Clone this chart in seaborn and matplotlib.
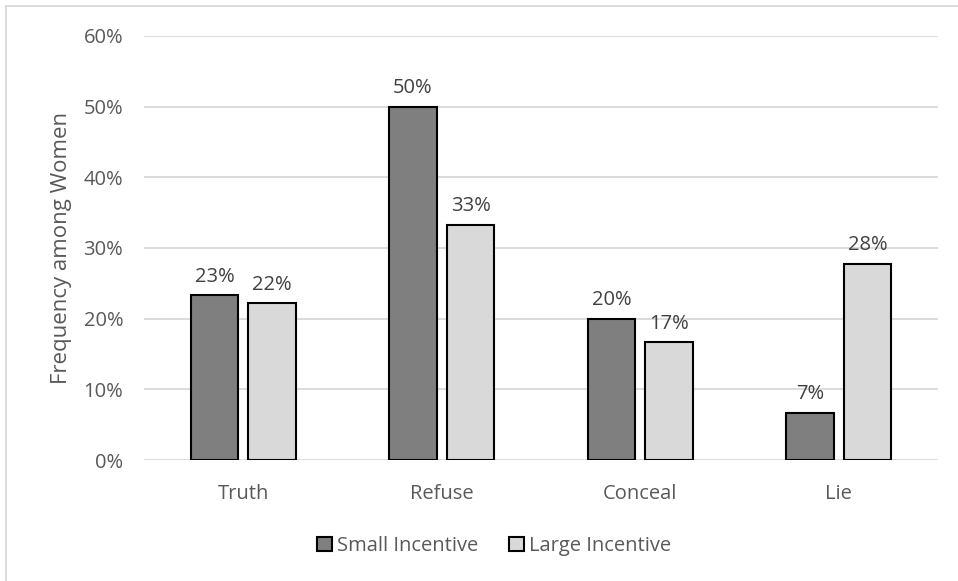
import matplotlib
matplotlib.use("Agg")
import matplotlib.pyplot as plt
import seaborn as sns
import pandas as pd
from matplotlib.patches import Rectangle

categories = ["Truth", "Refuse", "Conceal", "Lie"]
small_incentive = [0.233, 0.500, 0.200, 0.067]
large_incentive = [0.222, 0.333, 0.167, 0.278]
series_names = ["Small Incentive", "Large Incentive"]
yticks = [0, 0.1, 0.2, 0.3, 0.4, 0.5, 0.6]

df = pd.DataFrame({
    "category": categories * 2,
    "value": small_incentive + large_incentive,
    "series": [series_names[0]] * 4 + [series_names[1]] * 4,
})

sns.set_theme(style="white")
plt.rcParams["font.family"] = ["Open Sans", "DejaVu Sans"]
text_color = "#595959"

W, H = 958, 581
fig = plt.figure(figsize=(W / 100, H / 100), dpi=100)
ax = fig.add_axes([144 / W, 1 - 460 / H, (938 - 144) / W, (460 - 36) / H])

sns.barplot(data=df, x="category", y="value", hue="series", order=categories,
            hue_order=series_names, palette=["#7f7f7f", "#d9d9d9"],
            width=0.58, gap=0.17, edgecolor="black", linewidth=1.5,
            ax=ax, legend=False, errorbar=None)

for cont in ax.containers:
    ax.bar_label(cont, labels=[f"{v*100:.0f}%" for v in cont.datavalues],
                 padding=6, fontsize=14.5, color="#404040")

ax.set_ylim(0, 0.6)
ax.set_yticks(yticks)
ax.set_yticklabels([f"{int(round(t*100))}%" for t in yticks], color=text_color, fontsize=14.5)
ax.tick_params(axis="x", colors=text_color, labelsize=14.5, length=0, pad=17)
ax.tick_params(axis="y", length=0, pad=15)
ax.yaxis.grid(True, color="#d9d9d9", linewidth=1.3)
ax.set_axisbelow(True)
for s in ax.spines.values():
    s.set_visible(False)
ax.set_xlabel("")
ax.set_ylabel("Frequency among Women", color=text_color, fontsize=16, labelpad=8)
ax.set_xlim(-0.5, 3.5)

handles = [Rectangle((0, 0), 1, 1, facecolor="#7f7f7f", edgecolor="black", linewidth=1.5),
           Rectangle((0, 0), 1, 1, facecolor="#d9d9d9", edgecolor="black", linewidth=1.5)]
leg = fig.legend(handles, series_names, loc="center", bbox_to_anchor=(494 / W, 1 - 546 / H),
                 ncol=2, frameon=False, fontsize=14.5, handlelength=0.75, handleheight=0.75,
                 handletextpad=0.25, columnspacing=1.55, borderpad=0)
for t in leg.get_texts():
    t.set_color(text_color)

fig.patches.append(Rectangle((6 / W, -0.05), 1.1, 1 - 6 / H + 0.05, transform=fig.transFigure,
                             fill=False, edgecolor="#d9d9d9", linewidth=1.3))

fig.savefig("out.png", dpi=100)
